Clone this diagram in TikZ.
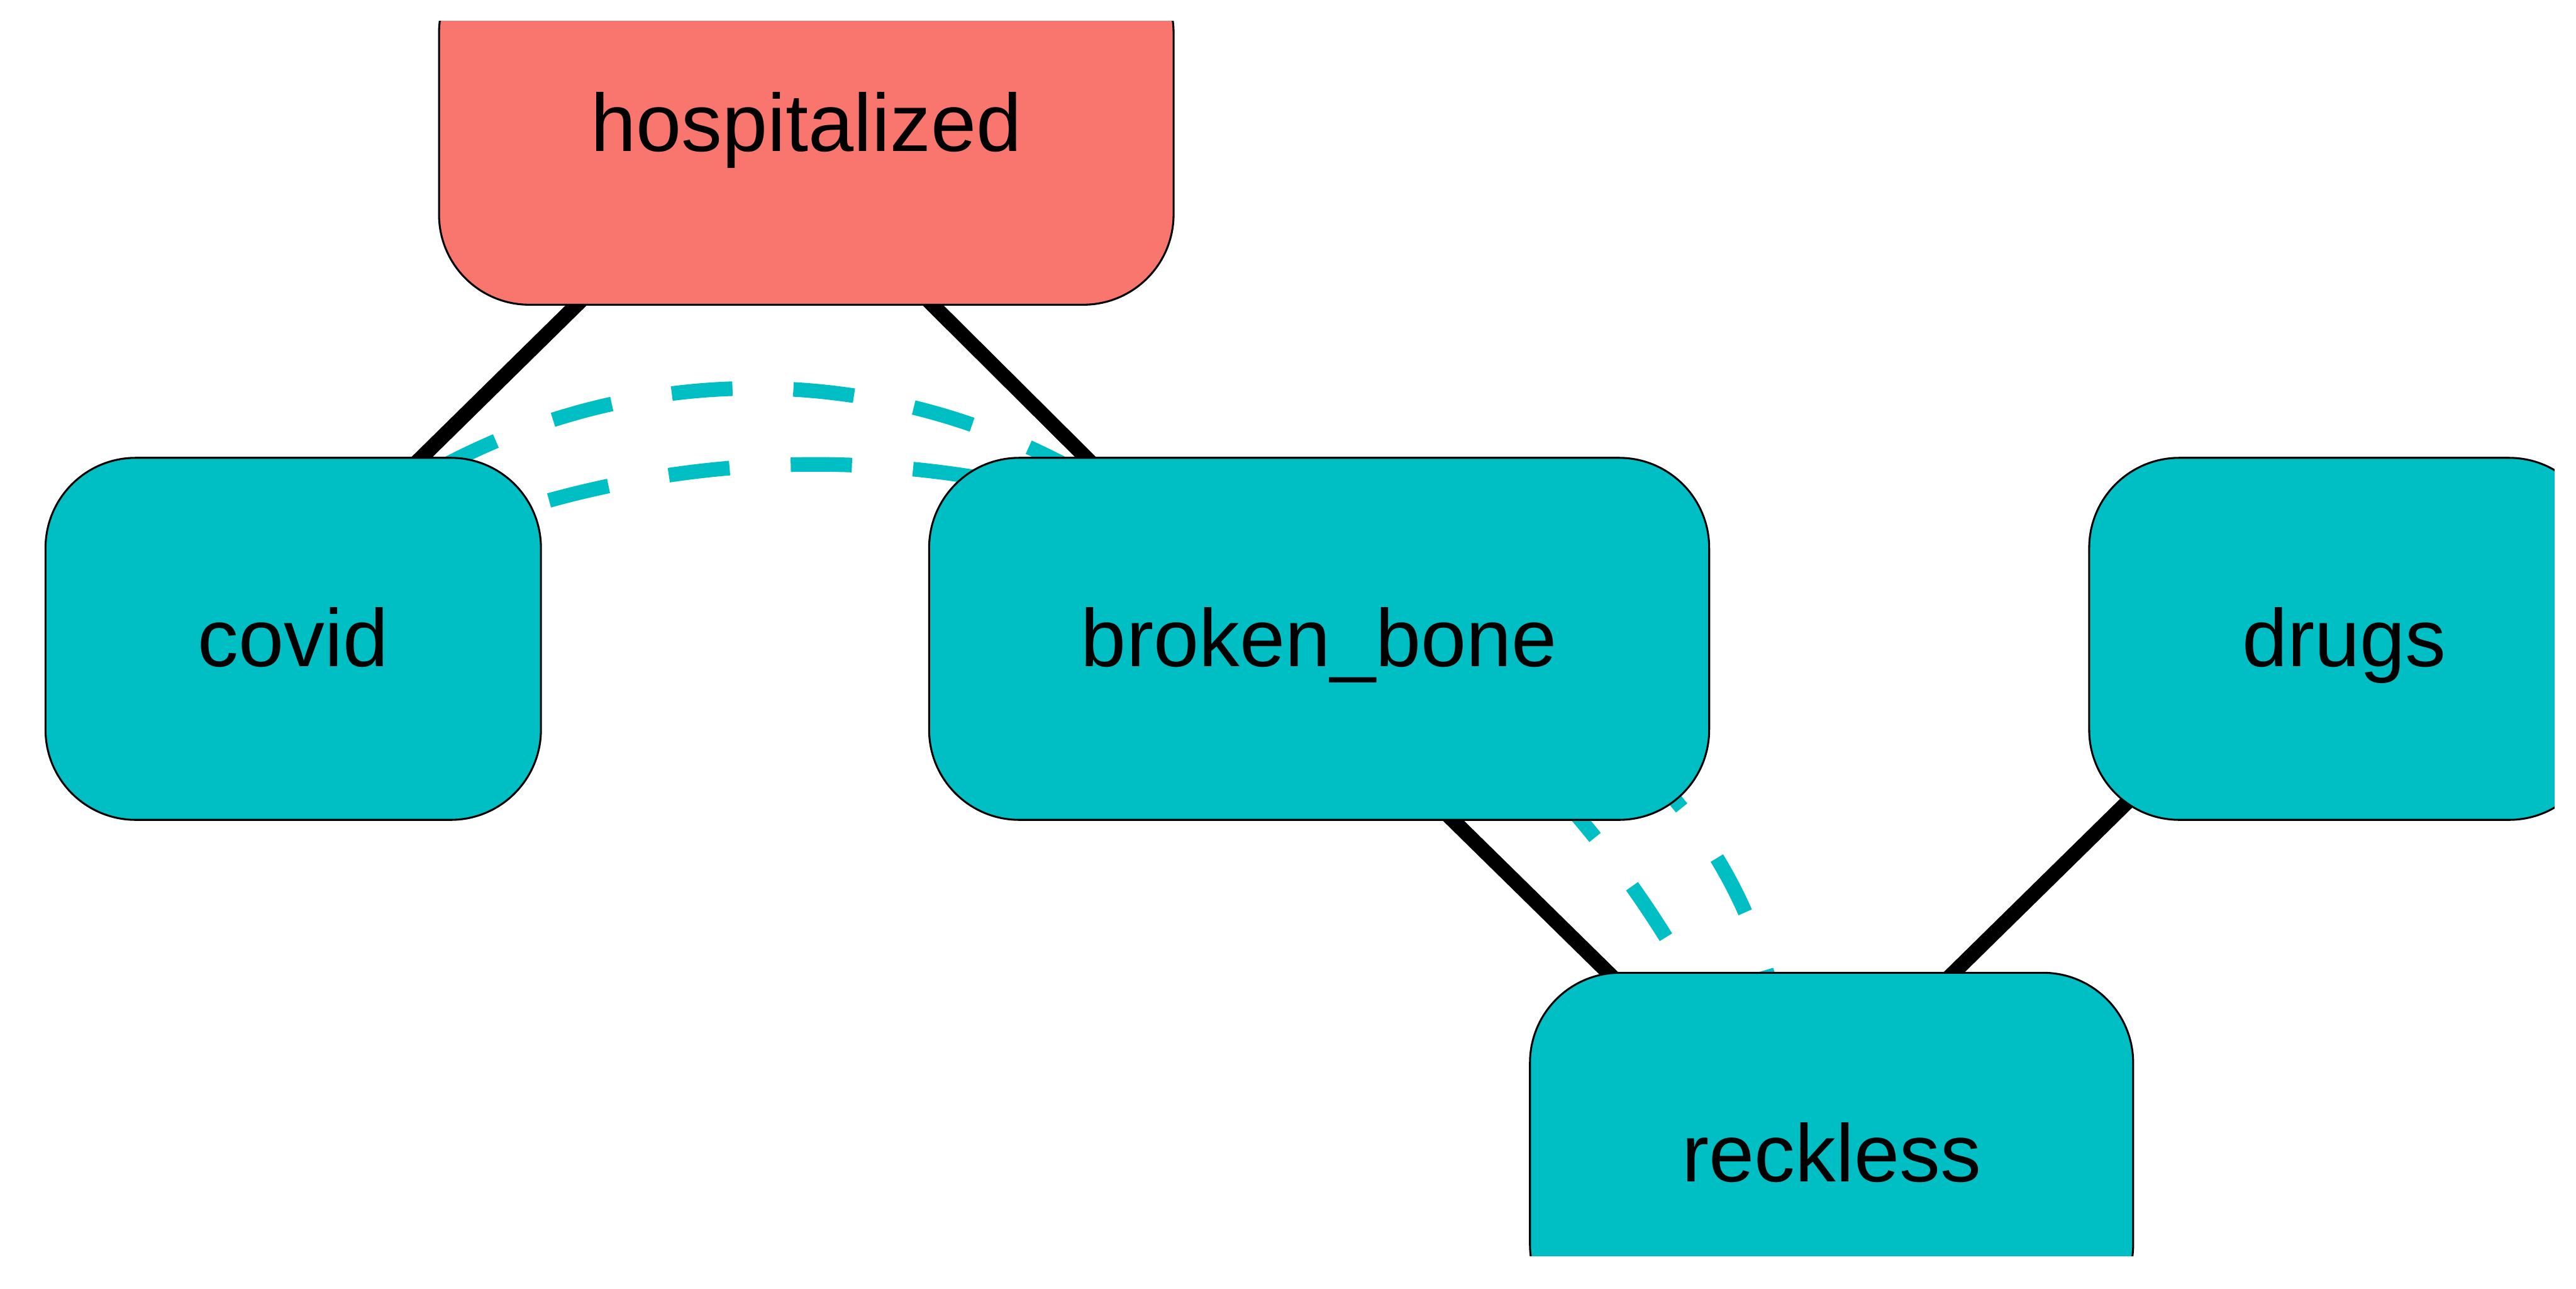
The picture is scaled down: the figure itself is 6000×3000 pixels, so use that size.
\documentclass[tikz,border=0pt]{standalone}
\usepackage{fontspec}
\setmainfont{Liberation Sans}
\usetikzlibrary{calc,backgrounds}
\definecolor{ggred}{HTML}{F8766D}
\definecolor{ggcyan}{HTML}{00BFC4}
\begin{document}
\begin{tikzpicture}[x=0.1pt,y=0.1pt,
  dagnode/.style={draw=black, line width=0.45pt, rounded corners=21pt,
    minimum height=84.3pt, inner sep=0pt, text height=12.9pt, text depth=0pt,
    font=\fontsize{19pt}{22pt}\selectfont, fill=ggcyan},
  adjusted/.style={fill=ggred},
  dagedge/.style={line width=3.45pt, black},
  collider/.style={line width=3.4pt, ggcyan}]
\useasboundingbox (0,0) rectangle (6000,-3000);
\begin{scope}
  \clip (50,-49.4) rectangle (5950,-2924.5);
  \node[dagnode, adjusted, minimum width=171.1pt] (hospitalized) at (1878,-288) {hospitalized};
  \node[dagnode, minimum width=115.4pt] (covid) at (683,-1487.5) {covid};
  \node[dagnode, minimum width=181.7pt] (broken) at (3072.5,-1487.5) {broken\_bone};
  \node[dagnode, minimum width=118.8pt] (drugs) at (5460,-1487.5) {drugs};
  \node[dagnode, minimum width=140.5pt] (reckless) at (4266,-2686.5) {reckless};
\end{scope}
% points of the nodes that the connectors join
\coordinate (hosp-pt)  at ($(hospitalized.center)+(-11.8pt,-1.2pt)$);
\coordinate (covid-pt) at ($(covid.center)+(-11.8pt,1.25pt)$);
\coordinate (broken-pt) at ($(broken.center)+(-11.85pt,0pt)$);
\coordinate (drugs-pt) at ($(drugs.center)+(-11.8pt,0pt)$);
\coordinate (reck-pt)  at ($(reckless.center)+(-11.8pt,2.65pt)$);
% collider arcs (start points inside the nodes they leave)
\coordinate (covid-arc) at ($(1759,-2452)+(139.23:154.8pt)$);
\coordinate (covid-arc2) at ($(1899,-3414)+(126.43:233.3pt)$);
\coordinate (broken-arc) at ($(3068,-2565)+(91.36:109pt)$);
\begin{pgfonlayer}{background}
  \fill[white] (0,0) rectangle (6000,-3000);
  \draw[dagedge] (hosp-pt) -- (covid-pt);
  \draw[dagedge] (hosp-pt) -- (broken-pt);
  \draw[dagedge] (broken-pt) -- (reck-pt);
  \draw[dagedge] (drugs-pt) -- (reck-pt);
  \draw[collider, dash pattern=on 14.19pt off 14.19pt]
    (covid-arc) arc[start angle=139.23, end angle=40, radius=154.8pt];
  \draw[collider, dash pattern=on 14.26pt off 14.26pt]
    (covid-arc2) arc[start angle=126.43, end angle=18, radius=233.3pt];
  \draw[collider, dash pattern=on 14.27pt off 14.27pt]
    (broken-arc) arc[start angle=91.36, end angle=-3, radius=109pt];
\end{pgfonlayer}
\end{tikzpicture}
\end{document}
